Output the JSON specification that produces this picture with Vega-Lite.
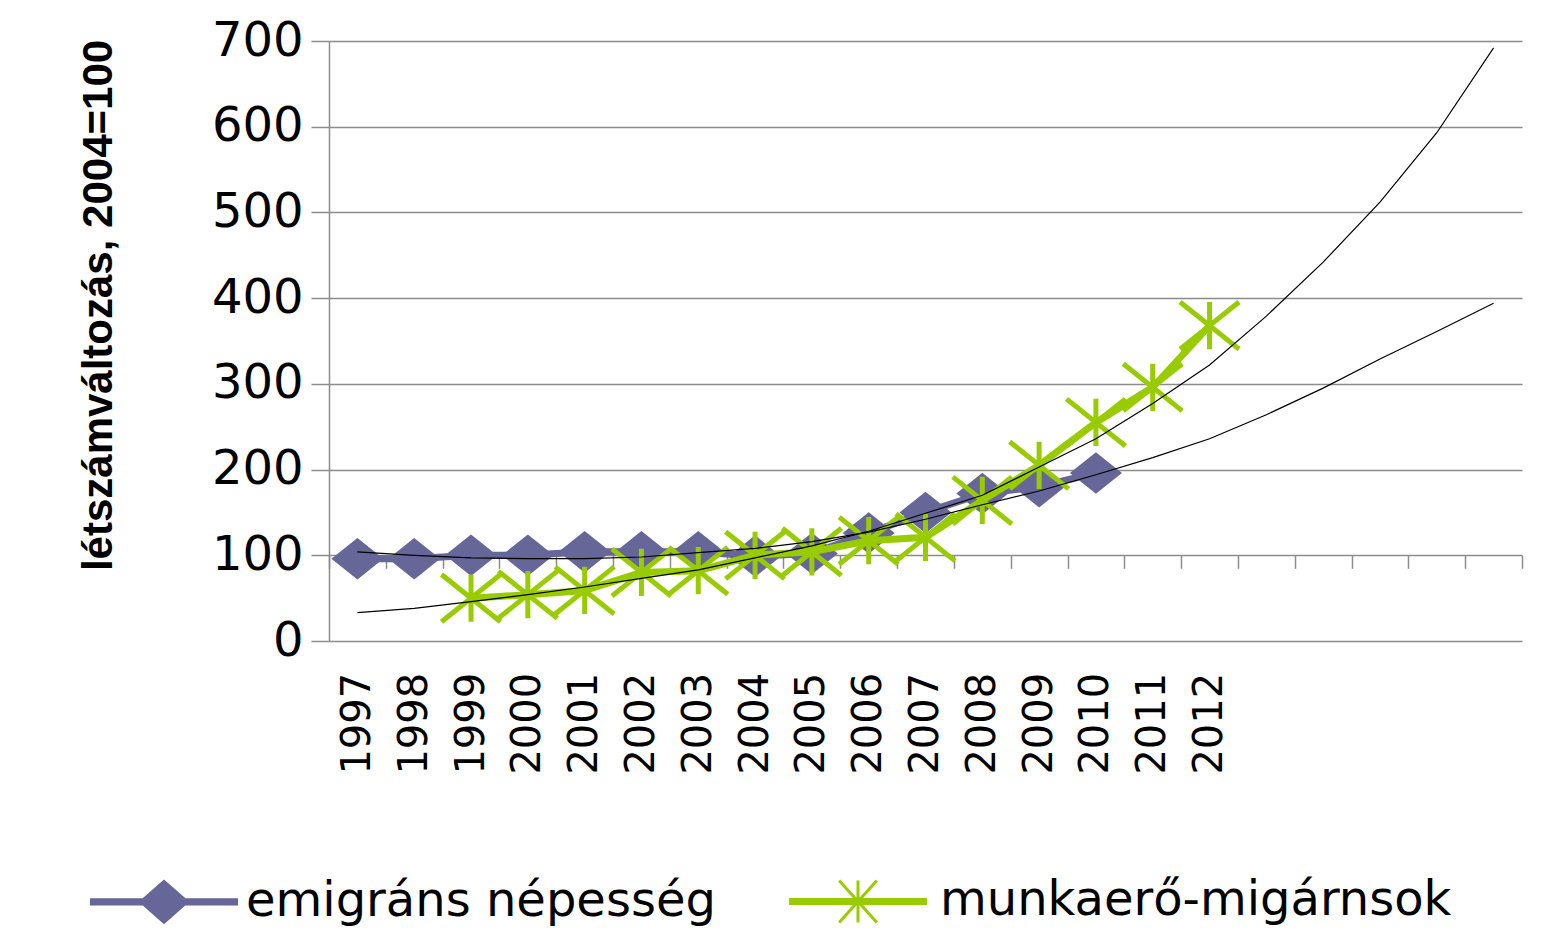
{
  "$schema": "https://vega.github.io/schema/vega-lite/v6.json",
  "width": 1193,
  "height": 600,
  "autosize": {"type": "none"},
  "padding": {"left": 329, "top": 41, "right": 34, "bottom": 308},
  "background": "white",
  "config": {"view": {"stroke": null}, "font": "DejaVu Sans"},
  "datasets": {
    "main": [
      {"year": "1997", "series": "emigráns népesség", "value": 96},
      {"year": "1998", "series": "emigráns népesség", "value": 96},
      {"year": "1999", "series": "emigráns népesség", "value": 100},
      {"year": "2000", "series": "emigráns népesség", "value": 100},
      {"year": "2001", "series": "emigráns népesség", "value": 104},
      {"year": "2002", "series": "emigráns népesség", "value": 104},
      {"year": "2003", "series": "emigráns népesség", "value": 104},
      {"year": "2004", "series": "emigráns népesség", "value": 99},
      {"year": "2005", "series": "emigráns népesség", "value": 102},
      {"year": "2006", "series": "emigráns népesség", "value": 126},
      {"year": "2007", "series": "emigráns népesség", "value": 150},
      {"year": "2008", "series": "emigráns népesség", "value": 172},
      {"year": "2009", "series": "emigráns népesség", "value": 180},
      {"year": "2010", "series": "emigráns népesség", "value": 196},
      {"year": "1999", "series": "munkaerő-migárnsok", "value": 50},
      {"year": "2000", "series": "munkaerő-migárnsok", "value": 54},
      {"year": "2001", "series": "munkaerő-migárnsok", "value": 59},
      {"year": "2002", "series": "munkaerő-migárnsok", "value": 80},
      {"year": "2003", "series": "munkaerő-migárnsok", "value": 82},
      {"year": "2004", "series": "munkaerő-migárnsok", "value": 100},
      {"year": "2005", "series": "munkaerő-migárnsok", "value": 104},
      {"year": "2006", "series": "munkaerő-migárnsok", "value": 117},
      {"year": "2007", "series": "munkaerő-migárnsok", "value": 121},
      {"year": "2008", "series": "munkaerő-migárnsok", "value": 164},
      {"year": "2009", "series": "munkaerő-migárnsok", "value": 205},
      {"year": "2010", "series": "munkaerő-migárnsok", "value": 255},
      {"year": "2011", "series": "munkaerő-migárnsok", "value": 296},
      {"year": "2012", "series": "munkaerő-migárnsok", "value": 368}
    ],
    "trend": [
      {"year": "1997", "series": "A", "value": 104},
      {"year": "1998", "series": "A", "value": 100},
      {"year": "1999", "series": "A", "value": 97},
      {"year": "2000", "series": "A", "value": 96},
      {"year": "2001", "series": "A", "value": 96},
      {"year": "2002", "series": "A", "value": 98},
      {"year": "2003", "series": "A", "value": 103},
      {"year": "2004", "series": "A", "value": 108},
      {"year": "2005", "series": "A", "value": 116},
      {"year": "2006", "series": "A", "value": 127},
      {"year": "2007", "series": "A", "value": 142},
      {"year": "2008", "series": "A", "value": 159},
      {"year": "2009", "series": "A", "value": 175},
      {"year": "2010", "series": "A", "value": 194},
      {"year": "2011", "series": "A", "value": 214},
      {"year": "2012", "series": "A", "value": 236},
      {"year": "2013", "series": "A", "value": 264},
      {"year": "2014", "series": "A", "value": 295},
      {"year": "2015", "series": "A", "value": 329},
      {"year": "2016", "series": "A", "value": 361},
      {"year": "2017", "series": "A", "value": 394},
      {"year": "1997", "series": "B", "value": 33},
      {"year": "1998", "series": "B", "value": 38},
      {"year": "1999", "series": "B", "value": 46},
      {"year": "2000", "series": "B", "value": 54},
      {"year": "2001", "series": "B", "value": 63},
      {"year": "2002", "series": "B", "value": 73},
      {"year": "2003", "series": "B", "value": 83},
      {"year": "2004", "series": "B", "value": 97},
      {"year": "2005", "series": "B", "value": 111},
      {"year": "2006", "series": "B", "value": 128},
      {"year": "2007", "series": "B", "value": 149},
      {"year": "2008", "series": "B", "value": 170},
      {"year": "2009", "series": "B", "value": 203},
      {"year": "2010", "series": "B", "value": 236},
      {"year": "2011", "series": "B", "value": 277},
      {"year": "2012", "series": "B", "value": 322},
      {"year": "2013", "series": "B", "value": 379},
      {"year": "2014", "series": "B", "value": 442},
      {"year": "2015", "series": "B", "value": 512},
      {"year": "2016", "series": "B", "value": 593},
      {"year": "2017", "series": "B", "value": 692}
    ]
  },
  "data": {"name": "main"},
  "encoding": {
    "x": {
      "field": "year",
      "type": "ordinal",
      "scale": {
        "type": "band",
        "domain": ["1997","1998","1999","2000","2001","2002","2003","2004","2005","2006","2007","2008","2009","2010","2011","2012","2013","2014","2015","2016","2017"],
        "paddingInner": 0,
        "paddingOuter": 0
      },
      "axis": {
        "title": null,
        "offset": -85.714,
        "domain": false,
        "grid": false,
        "ticks": true,
        "tickBand": "extent",
        "tickSize": 13,
        "tickColor": "#8c8c8c",
        "tickWidth": 1.5,
        "labelAngle": -90,
        "labelPadding": 104,
        "labelFont": "DejaVu Sans",
        "labelFontSize": 40,
        "labelColor": "black",
        "labelOverlap": false,
        "labelBound": false,
        "labelExpr": "toNumber(datum.value) > 2012 ? '' : datum.label"
      }
    },
    "y": {
      "field": "value",
      "type": "quantitative",
      "scale": {"domain": [0, 700], "nice": false, "zero": true},
      "axis": {
        "title": "létszámváltozás, 2004=100",
        "titleFont": "Liberation Sans",
        "titleFontSize": 42,
        "titleFontWeight": "bold",
        "titleColor": "black",
        "titleAngle": 270,
        "titleAlign": "center",
        "titleBaseline": "bottom",
        "titleX": -209,
        "titleY": 264,
        "values": [0, 100, 200, 300, 400, 500, 600, 700],
        "grid": true,
        "gridColor": "#8c8c8c",
        "gridWidth": 1.5,
        "domainColor": "#8c8c8c",
        "domainWidth": 1.5,
        "tickColor": "#8c8c8c",
        "tickWidth": 1.5,
        "tickSize": 18,
        "labelFont": "DejaVu Sans",
        "labelFontSize": 48,
        "labelPadding": 8,
        "labelColor": "black"
      }
    },
    "color": {
      "field": "series",
      "type": "nominal",
      "scale": {"domain": ["emigráns népesség", "munkaerő-migárnsok"], "range": ["#666699", "#99cc00"]},
      "legend": {
        "orient": "none",
        "legendX": -239,
        "legendY": 786,
        "direction": "horizontal",
        "title": null,
        "padding": 0,
        "symbolSize": 21025,
        "labelFont": "DejaVu Sans",
        "labelFontSize": 48,
        "labelColor": "black",
        "labelOffset": 8,
        "columnPadding": 68,
        "labelLimit": 0,
        "encode": {
          "symbols": {
            "update": {
              "shape": {"signal": "datum.value === 'emigráns népesség' ? 'M-1,-0.028L1,-0.028L1,0.028L-1,0.028Z M-0.32,0L0,-0.28L0.32,0L0,0.28Z' : 'M-0.93,-0.028L0.93,-0.028L0.93,0.028L-0.93,0.028Z M0,-0.29L0,0.29 M-0.26,-0.29L0.26,0.29 M-0.26,0.29L0.26,-0.29'"},
              "fill": {"signal": "datum.value === 'emigráns népesség' ? '#666699' : '#99cc00'"},
              "stroke": {"signal": "datum.value === 'emigráns népesség' ? '#666699' : '#99cc00'"},
              "strokeWidth": {"value": 3},
              "opacity": {"value": 1},
              "fillOpacity": {"value": 1},
              "strokeOpacity": {"value": 1}
            }
          }
        }
      }
    }
  },
  "layer": [
    {
      "transform": [{"filter": "datum.series === 'emigráns népesség'"}],
      "mark": {"type": "line", "strokeWidth": 7}
    },
    {
      "transform": [{"filter": "datum.series === 'emigráns népesség'"}],
      "mark": {"type": "point", "shape": "M-1,0L0,-0.8L1,0L0,0.8Z", "filled": true, "size": 2704, "opacity": 1}
    },
    {
      "transform": [{"filter": "datum.series === 'munkaerő-migárnsok'"}],
      "mark": {"type": "line", "strokeWidth": 7}
    },
    {
      "transform": [{"filter": "datum.series === 'munkaerő-migárnsok'"}],
      "mark": {"type": "point", "shape": "M0,-0.8L0,0.8M-1,-0.8L1,0.8M-1,0.8L1,-0.8", "filled": false, "size": 3481, "strokeWidth": 5, "opacity": 1}
    },
    {
      "data": {"name": "trend"},
      "mark": {"type": "line", "strokeWidth": 1.2},
      "encoding": {
        "color": {"value": "black"},
        "detail": {"field": "series", "type": "nominal"}
      }
    }
  ]
}
